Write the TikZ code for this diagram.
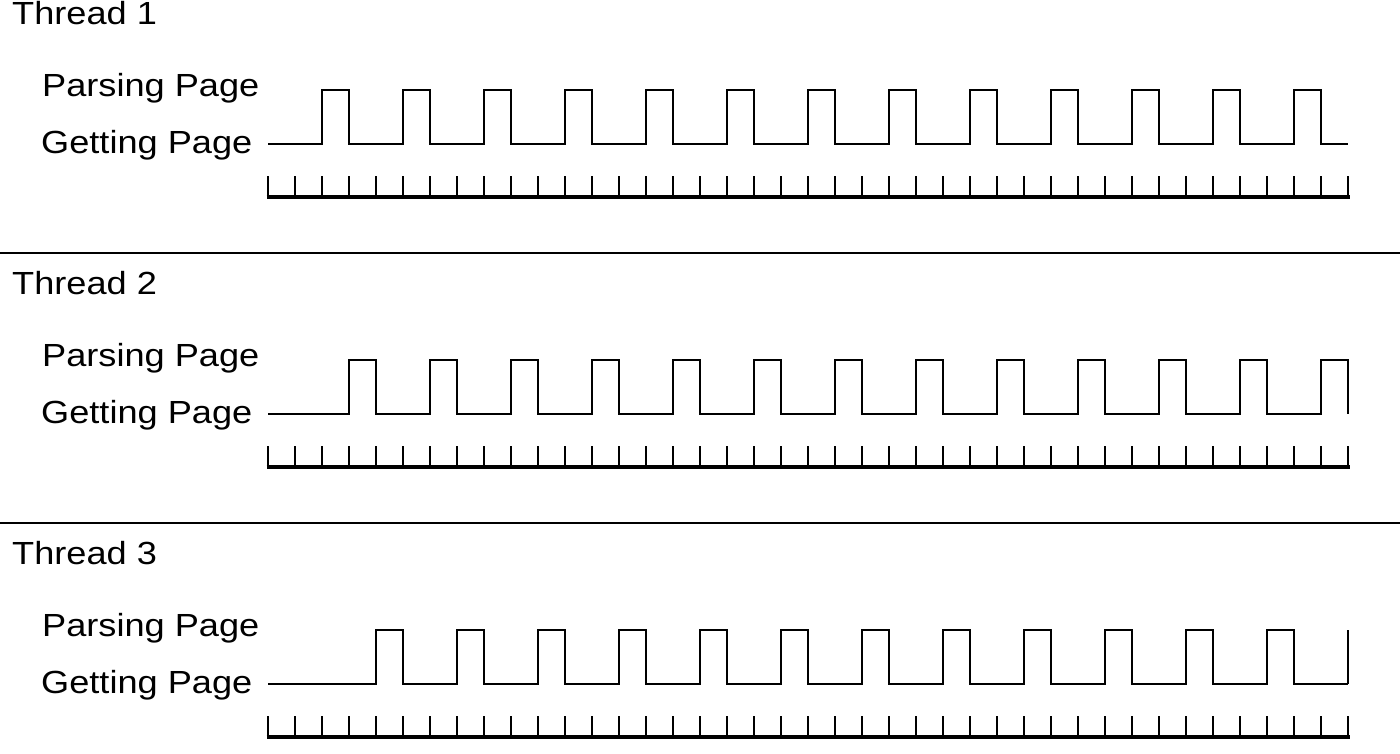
\documentclass[tikz,border=0pt]{standalone}
\usepackage{fontspec}
\setmainfont{Liberation Sans}[FakeStretch=1.13]
\begin{document}
\begin{tikzpicture}[x=1pt,y=-1pt,
  lbl/.style={anchor=base west,inner sep=0pt,font=\fontsize{32}{37}\selectfont},
  wave/.style={line width=2.6pt,line join=miter},
  tickmark/.style={line width=2.6pt},
  tickbase/.style={line width=3.2pt},
  sep/.style={line width=1.8pt}]
\useasboundingbox (0,0) rectangle (1400,753);
\foreach \t/\first/\n/\tail in {1/2/12/0, 2/3/12/0, 3/4/11/1}{
  \pgfmathsetmacro{\dy}{270*(\t-1)}
  \node[lbl] (thread\t) at (12,{24+\dy}) {Thread \t};
  \node[lbl] (parse\t) at (42,{96+\dy}) {Parsing Page};
  \node[lbl] (get\t) at (41,{153+\dy}) {Getting Page};
  % waveform
  \draw[wave] (268,{144+\dy})
    \foreach \i in {0,...,\n}{
      -- ({268+27*(\first+3*\i)},{144+\dy})
      -- ({268+27*(\first+3*\i)},{90+\dy})
      -- ({268+27*(\first+3*\i+1)},{90+\dy})
      -- ({268+27*(\first+3*\i+1)},{144+\dy})
    } -- (1348,{144+\dy});
  \ifnum\tail=1
    \draw[wave] (1348,{144+\dy}) -- (1348,{90+\dy});
  \fi
  % time axis
  \draw[tickbase] (266.5,{197+\dy}) -- (1349.5,{197+\dy});
  \foreach \k in {0,...,40}{
    \draw[tickmark] ({268+27*\k},{176+\dy}) -- ({268+27*\k},{197+\dy});
  }
}
\coordinate (s1a) at (0,253);
\coordinate (s1b) at (1400,253);
\coordinate (s2a) at (0,523);
\coordinate (s2b) at (1400,523);
\draw[sep] (s1a) -- (s1b);
\draw[sep] (s2a) -- (s2b);
\end{tikzpicture}
\end{document}
